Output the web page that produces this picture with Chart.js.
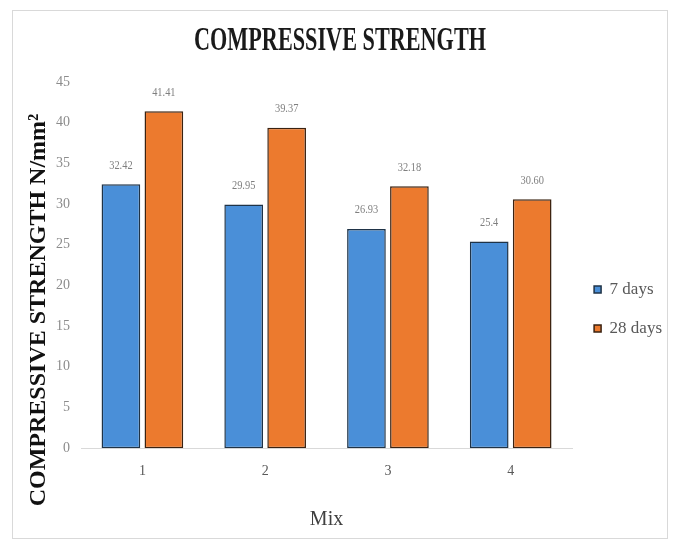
<!DOCTYPE html>
<html>
<head>
<meta charset="utf-8">
<script src="https://cdn.jsdelivr.net/npm/chart.js@4"></script>
<style>
  body { margin: 0; background: #fff; }
  #frame { position: absolute; left: 12px; top: 10px; width: 654px; height: 527px; border: 1px solid #d9d9d9; }
</style>
</head>
<body>
<div id="frame"><canvas id="chartContainer" width="654" height="527"></canvas></div>
<script>
"use strict";

// data
const mixes = ["1", "2", "3", "4"];
const days7 = [32.42, 29.95, 26.93, 25.4];
const days28 = [41.41, 39.37, 32.18, 30.60];
// labels as printed above the bars
const labels7 = ["32.42", "29.95", "26.93", "25.4"];
const labels28 = ["41.41", "39.37", "32.18", "30.60"];
const yTicks = [0, 5, 10, 15, 20, 25, 30, 35, 40, 45];

const chartTitle = "COMPRESSIVE STRENGTH";
const yTitle = "COMPRESSIVE STRENGTH N/mm²";

// value above every bar (the picture uses narrow digits, so squeeze a bit)
const valueLabels = {
  id: "valueLabels",
  afterDatasetsDraw(chart) {
    const ctx = chart.ctx;
    ctx.save();
    ctx.font = "13px 'Liberation Serif'";
    ctx.fillStyle = "#7f7f7f";
    ctx.textAlign = "center";
    ctx.textBaseline = "middle";
    chart.data.datasets.forEach((ds, i) => {
      chart.getDatasetMeta(i).data.forEach((bar, j) => {
        ctx.save();
        ctx.translate(bar.x, bar.y - 19);
        ctx.scale(0.8, 1);
        ctx.fillText(ds.valueText[j], 0, 0);
        ctx.restore();
      });
    });
    ctx.restore();
  }
};

// main title is a tall, condensed face in the picture, and the y title
// sits lower than the middle of the axis
const titles = {
  id: "titles",
  afterDraw(chart) {
    const ctx = chart.ctx;
    ctx.save();
    ctx.fillStyle = "#1a1a1a";
    ctx.textAlign = "center";
    ctx.textBaseline = "alphabetic";
    ctx.font = "bold 33px 'Liberation Serif'";
    let w = ctx.measureText(chartTitle).width;
    ctx.translate(chart.width / 2, 39);
    ctx.scale(292 / w, 1);
    ctx.fillText(chartTitle, 0, 0);
    ctx.restore();

    ctx.save();
    ctx.fillStyle = "#111";
    ctx.textAlign = "center";
    ctx.textBaseline = "middle";
    ctx.font = "bold 24px 'Liberation Serif'";
    ctx.translate(26, 299);
    ctx.rotate(-Math.PI / 2);
    ctx.fillText(yTitle, 0, 0);
    ctx.restore();
  }
};

let chart = new Chart(document.getElementById("chartContainer"), {
  type: "bar",
  data: {
    labels: mixes,
    datasets: [{
      label: "7 days",
      data: days7,
      valueText: labels7,
      backgroundColor: "#4a8fd8",
      borderColor: "#1f3347",
      borderWidth: 1.5,
      borderSkipped: false
    }, {
      label: "28 days",
      data: days28,
      valueText: labels28,
      backgroundColor: "#ec7a2e",
      borderColor: "#3a2211",
      borderWidth: 1.5,
      borderSkipped: false
    }]
  },
  options: {
    responsive: false,
    animation: false,
    layout: { padding: { left: 40, right: -5, top: 71, bottom: 2 } },
    datasets: { bar: { categoryPercentage: 0.7, barPercentage: 0.9 } },
    scales: {
      x: {
        grid: { display: false },
        border: { color: "#d9d9d9" },
        ticks: { color: "#595959", font: { family: "Liberation Serif", size: 14 }, padding: 7 },
        title: { display: true, text: "Mix", color: "#404040", font: { family: "Liberation Serif", size: 20 }, padding: { top: 21, bottom: 4 } }
      },
      y: {
        min: 0, max: 45,
        afterBuildTicks: (axis) => { axis.ticks = yTicks.map(v => ({ value: v })); },
        grid: { display: false },
        border: { display: false },
        ticks: { color: "#8c8c8c", font: { family: "Liberation Serif", size: 14 }, padding: 3 }
      }
    },
    plugins: {
      title: { display: false },
      legend: {
        position: "right",
        labels: {
          boxWidth: 7, boxHeight: 7,
          color: "#595959",
          font: { family: "Liberation Serif", size: 17 },
          padding: 22
        }
      },
      tooltip: { enabled: false }
    }
  },
  plugins: [valueLabels, titles]
});
</script>
</body>
</html>
